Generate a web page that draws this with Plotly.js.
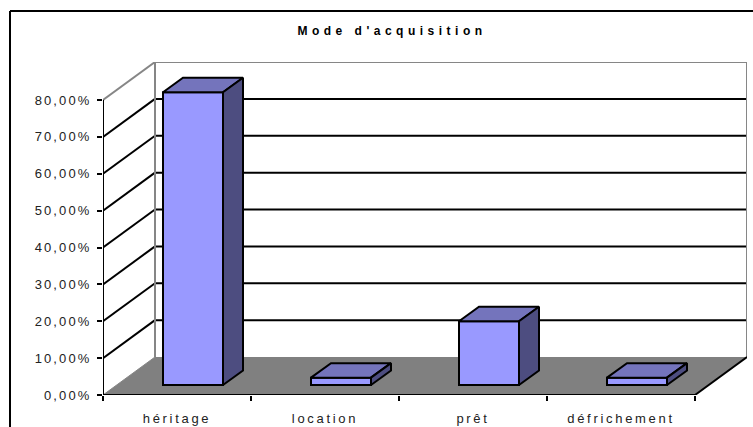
<!DOCTYPE html>
<html><head><meta charset="utf-8">
<script src="https://cdn.plot.ly/plotly-3.0.1.min.js"></script>
<style>
html,body{margin:0;padding:0;background:#fff;overflow:hidden}
.gtitle{letter-spacing:4.5px}
.xtick text{letter-spacing:2.7px}
.ytick text{letter-spacing:2.1px}
</style></head><body><div id="chart" style="width:753px;height:427px"></div>
<script>
const categories = ['héritage','location','prêt','défrichement'];
const values = [79.4, 2.0, 17.3, 2.0];
const yTicks = [0,10,20,30,40,50,60,70,80];
const yTickLabels = ['0,00%','10,00%','20,00%','30,00%','40,00%','50,00%','60,00%','70,00%','80,00%'];
const chartTitle = "Mode d'acquisition";

// Oblique projection, expressed in axis units
const PXX = 148, PXY = 295/80;
const wallDX = 52/PXX, wallDY = 38/PXY;       // depth of the floor
const barW = 60/PXX, barShift = 16/PXX, barBase = 10/PXY;
const barDX = 20/PXX, barDY = 14.5/PXY;
const n = categories.length;

const shapes = [];
const seg = (x0,y0,x1,y1,color,width) => shapes.push({type:'line',xref:'x',yref:'y',x0,y0,x1,y1,layer:'below',line:{color,width}});
// floor
shapes.push({type:'path',xref:'x',yref:'y',layer:'below',fillcolor:'#808080',line:{width:0},
  path:`M0,0 L${n},0 L${n+wallDX},${wallDY} L${wallDX},${wallDY} Z`});
// gridlines on the side and back walls
yTicks.forEach(t=>{
  if(t===0||t===80) return;
  seg(0,t,wallDX,t+wallDY,'#000',2);
  seg(wallDX,t+wallDY,n+wallDX,t+wallDY,'#000',2);
});
const yMax = yTicks[yTicks.length-1];
// wall edges
seg(wallDX,wallDY,wallDX,yMax+wallDY,'#868686',2);
seg(n+wallDX,wallDY,n+wallDX,yMax+wallDY,'#868686',2);
seg(wallDX,yMax+wallDY,n+wallDX,yMax+wallDY,'#868686',2);
seg(0,yMax,wallDX,yMax+wallDY,'#868686',2);
seg(0,0,wallDX,wallDY,'#868686',1);
// floor front edges and vertical axis
seg(0,0,n,0,'#000',2);
seg(n,0,n+wallDX,wallDY,'#000',2);
seg(0,0,0,yMax,'#000',2);
// chart frame
[[10,427,10,11],[10,11,753,11]].forEach(p=>shapes.push({type:'line',xref:'paper',yref:'paper',
  x0:(p[0]-103)/644,y0:(395-p[1])/333,x1:(p[2]-103)/644,y1:(395-p[3])/333,layer:'below',line:{color:'#000',width:2}}));

const cx = categories.map((c,i)=>i+0.5);
const fx = cx.map(v=>v+barShift);
const traces = [{
  type:'bar',x:fx,y:values,base:values.map(()=>barBase),width:barW,
  marker:{color:'#9999FF',line:{color:'#000',width:2}},hoverinfo:'skip'
}];
values.forEach((v,i)=>{
  const l=fx[i]-barW/2,r=fx[i]+barW/2,b=barBase,t=barBase+v;
  traces.push({type:'scatter',mode:'lines',fill:'toself',fillcolor:'#7474BC',line:{color:'#000',width:2},hoverinfo:'skip',
    x:[l,r,r+barDX,l+barDX,l],y:[t,t,t+barDY,t+barDY,t]});
  traces.push({type:'scatter',mode:'lines',fill:'toself',fillcolor:'#4D4D80',line:{color:'#000',width:2},hoverinfo:'skip',
    x:[r,r+barDX,r+barDX,r,r],y:[b,b+barDY,t+barDY,t,b]});
});

const font = {family:'"Liberation Sans", Arial, sans-serif',size:13,color:'#222'};
Plotly.newPlot('chart',traces,{
  width:753,height:427,showlegend:false,barmode:'overlay',
  paper_bgcolor:'#fff',plot_bgcolor:'rgba(0,0,0,0)',
  margin:{l:103,r:6,t:62,b:32,pad:0},font,
  title:{text:chartTitle,x:392/753,xanchor:'center',xref:'container',y:1-31/427,yanchor:'middle',yref:'container',
    font:{family:font.family,size:12,weight:700,color:'#000'}},
  xaxis:{range:[0,n+wallDX],tickmode:'array',tickvals:cx,ticktext:categories,ticks:'outside',ticklen:11,
    tickcolor:'rgba(0,0,0,0)',showgrid:false,zeroline:false,showline:false,fixedrange:true,
    tickfont:font,
    minor:{tickmode:'array',tickvals:[0,1,2,3,4],ticks:'outside',ticklen:5,tickwidth:2,tickcolor:'#000',showgrid:false}},
  yaxis:{range:[0,yMax+wallDY],tickmode:'array',tickvals:yTicks,ticktext:yTickLabels,ticks:'outside',ticklabelstandoff:3,
    ticklen:5,tickwidth:2,tickcolor:'#000',showgrid:false,zeroline:false,showline:false,fixedrange:true,tickfont:font},
  shapes
},{staticPlot:true,displayModeBar:false});
</script></body></html>
